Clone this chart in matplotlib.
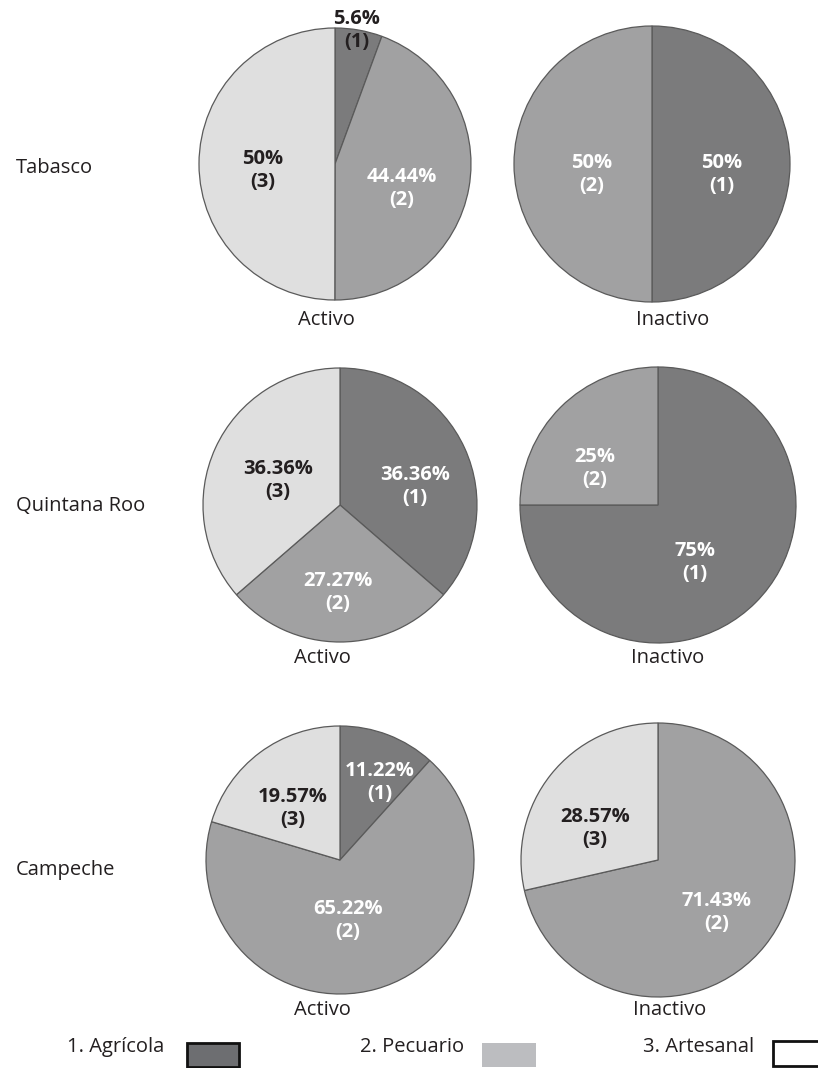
import matplotlib
matplotlib.use("Agg")
import matplotlib.pyplot as plt
import matplotlib.patches as patches

plt.rcParams['font.family'] = ['Open Sans', 'DejaVu Sans']

# data
states = ["Tabasco", "Quintana Roo", "Campeche"]
groups = ["Activo", "Inactivo"]
categories = ["1. Agrícola", "2. Pecuario", "3. Artesanal"]

# shares per category (agrícola, pecuario, artesanal)
tabasco_activo = [5.6, 44.44, 50]
tabasco_inactivo = [50, 50, 0]
qroo_activo = [36.36, 27.27, 36.36]
qroo_inactivo = [75, 25, 0]
campeche_activo = [11.22, 65.22, 19.57]
campeche_inactivo = [0, 71.43, 28.57]

values = [
    [tabasco_activo, tabasco_inactivo],
    [qroo_activo, qroo_inactivo],
    [campeche_activo, campeche_inactivo],
]

# styles
W, H = 818, 1068
pie_colors = ["#7b7b7c", "#a1a1a2", "#dfdfdf"]
legend_colors = ["#6d6e71", "#bcbdc0", "#ffffff"]
text_dark = "#231f20"

# layout (pixels, measured on the reference)
col_x = [[335, 652], [340, 658], [340, 658]]
row_y = [164, 505, 860]
radius = [[136, 138], [137, 138], [134, 137]]
group_label_y = [320, 658, 1010]
group_label_x = [[326, 673], [322, 668], [322, 670]]
state_label_y = [168, 506, 870]

# label centre for each wedge (category index, x, y, colour)
label_pos = [
    [[(0, 357, 30, text_dark), (1, 402, 189, "white"), (2, 263, 171, text_dark)],
     [(0, 722, 175, "white"), (1, 592, 175, "white")]],
    [[(0, 415, 487, "white"), (1, 338, 593, "white"), (2, 278, 481, text_dark)],
     [(0, 695, 563, "white"), (1, 595, 468, "white")]],
    [[(0, 380, 783, "white"), (1, 348, 920, "white"), (2, 293, 808, text_dark)],
     [(1, 717, 913, "white"), (2, 595, 828, text_dark)]],
]

fig = plt.figure(figsize=(W / 100, H / 100), dpi=100)
ax = fig.add_axes([0, 0, 1, 1])

for i, state in enumerate(states):
    for j, group in enumerate(groups):
        vals = values[i][j]
        keep = [k for k, v in enumerate(vals) if v > 0]
        ax.pie([vals[k] for k in keep],
               colors=[pie_colors[k] for k in keep],
               center=(col_x[i][j], H - row_y[i]),
               radius=radius[i][j],
               startangle=90, counterclock=False, frame=True,
               wedgeprops=dict(edgecolor="#5a5a5a", linewidth=0.9))
        for k, x, y, c in label_pos[i][j]:
            ax.text(x, H - y, f"{vals[k]:g}%\n({k + 1})", ha="center", va="center",
                    color=c, fontsize=14.5, fontweight="bold", linespacing=1.2)
        ax.text(group_label_x[i][j], H - group_label_y[i], group, ha="center",
                va="center", fontsize=14.5, color=text_dark)
    ax.text(16, H - state_label_y[i], state, ha="left", va="center",
            fontsize=14.5, color=text_dark)

# legend row
legend_text_x = [67, 360, 643]
legend_box = [(187, 1043, 52, 24), (482, 1043, 54, 24), (773, 1041, 60, 25)]
for k, cat in enumerate(categories):
    ax.text(legend_text_x[k], H - 1047, cat, ha="left", va="center",
            fontsize=14.5, color=text_dark)
    bx, by, bw, bh = legend_box[k]
    edge = "none" if k == 1 else "#111111"
    ax.add_patch(patches.Rectangle((bx, H - by - bh), bw, bh, facecolor=legend_colors[k],
                                   edgecolor=edge, linewidth=2))

ax.set_xlim(0, W)
ax.set_ylim(0, H)
ax.set_aspect("equal")
ax.axis("off")

fig.savefig("out.png", dpi=100)
